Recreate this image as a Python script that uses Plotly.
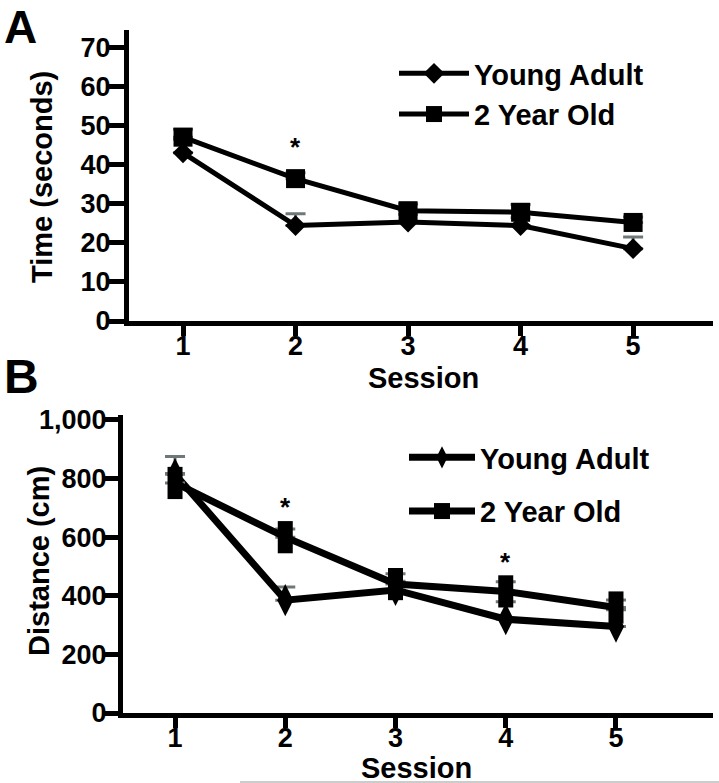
import plotly.graph_objects as go

sessions = [1, 2, 3, 4, 5]

# Panel A: Time (seconds)
time_young = [43, 24.4, 25.3, 24.4, 18.5]
time_young_sem = [3.5, 3.0, 2.0, 2.0, 3.0]
time_old = [47, 36.4, 28.2, 27.8, 25.2]
time_old_sem = [2.0, 1.5, 1.7, 2.0, 1.4]

# Panel B: Distance (cm)
dist_young = [815, 385, 420, 320, 295]
dist_young_sem = [60, 45, 30, 60, 57]
dist_old = [785, 600, 440, 415, 360]
dist_old_sem = [32, 28, 35, 33, 26]

time_ticks = [0, 10, 20, 30, 40, 50, 60, 70]
dist_ticks = [0, 200, 400, 600, 800, 1000]
dist_ticktext = ["0", "200", "400", "600", "800", "1,000"]

stars_A = [(2, 44.5)]
stars_B = [(2, 703), (4, 515)]

FONT = "Liberation Sans, Arial, Helvetica, sans-serif"
CAP = "#6e7878"
W, H = 719, 783

fig = go.Figure()

def err(sem, w):
    return dict(type="data", symmetric=False, array=sem, arrayminus=[0] * len(sem),
                color=CAP, thickness=3, width=w)

# Panel A traces
fig.add_trace(go.Scatter(x=sessions, y=time_young, name="Young Adult", mode="lines+markers",
                         line=dict(color="black", width=5),
                         marker=dict(symbol="diamond", size=16, color="black"),
                         error_y=err(time_young_sem, 10), xaxis="x", yaxis="y", legend="legend"))
fig.add_trace(go.Scatter(x=sessions, y=time_old, name="2 Year Old", mode="lines+markers",
                         line=dict(color="black", width=5),
                         marker=dict(symbol="square", size=19, color="black"),
                         error_y=err(time_old_sem, 10), xaxis="x", yaxis="y", legend="legend"))

# Panel B traces
fig.add_trace(go.Scatter(x=sessions, y=dist_young, name="Young Adult", mode="lines+markers",
                         line=dict(color="black", width=7),
                         marker=dict(symbol="diamond-tall", size=23, color="black"),
                         error_y=err(dist_young_sem, 10), xaxis="x2", yaxis="y2",
                         legend="legend2", legendgroup="bya"))
fig.add_trace(go.Scatter(x=sessions, y=dist_old, name="2 Year Old", mode="lines+markers",
                         line=dict(color="black", width=7),
                         marker=dict(symbol="line-ns", size=23, color="black",
                                     line=dict(color="black", width=15)),
                         error_y=err(dist_old_sem, 10), xaxis="x2", yaxis="y2",
                         showlegend=False, legend="legend2", legendgroup="bold"))
fig.add_trace(go.Scatter(x=[None], y=[None], name="2 Year Old", mode="lines+markers",
                         line=dict(color="black", width=7),
                         marker=dict(symbol="square", size=16, color="black"),
                         xaxis="x2", yaxis="y2", legend="legend2", legendgroup="bold"))

axis_common = dict(showline=True, linewidth=5, linecolor="black", ticks="outside",
                   tickwidth=5, tickcolor="black", showgrid=False, zeroline=False,
                   tickfont=dict(family=FONT, size=27, color="black", weight="bold"),
                   automargin=False)

fig.update_layout(
    width=W, height=H,
    margin=dict(l=0, r=0, t=0, b=0),
    paper_bgcolor="white", plot_bgcolor="white",
    font=dict(family=FONT, color="black", weight="bold"),
    xaxis=dict(domain=[129 / W, 713 / W], anchor="y", range=[0.52, 5.71],
               tickvals=sessions, ticklen=10, ticklabelstandoff=-13, **axis_common),
    yaxis=dict(domain=[1 - 321 / H, 1 - 30 / H], anchor="x", range=[0, 74.4],
               tickvals=time_ticks, ticklen=15, ticklabelstandoff=-7, **axis_common),
    xaxis2=dict(domain=[123 / W, 713 / W], anchor="y2", range=[0.528, 5.88],
                tickvals=sessions, ticklen=10, ticklabelstandoff=-13, **axis_common),
    yaxis2=dict(domain=[1 - 713 / H, 1 - 415 / H], anchor="x2", range=[0, 1017],
                tickvals=dist_ticks, ticktext=dist_ticktext, ticklen=13,
                ticklabelstandoff=-7, **axis_common),
    legend=dict(x=394 / W, y=1 - 48 / H, xanchor="left", yanchor="top",
                font=dict(family=FONT, size=29, weight="bold"), itemwidth=70,
                bgcolor="rgba(0,0,0,0)", borderwidth=0),
    legend2=dict(x=404 / W, y=1 - 432 / H, xanchor="left", yanchor="top",
                 font=dict(family=FONT, size=29, weight="bold"), itemwidth=66,
                 tracegroupgap=13, traceorder="grouped",
                 bgcolor="rgba(0,0,0,0)", borderwidth=0),
    showlegend=True,
)

title_font = dict(family=FONT, size=29, weight="bold", color="black")
# axis titles
fig.add_annotation(x=423 / W, y=1 - 378 / H, xref="paper", yref="paper", text="Session",
                   showarrow=False, xanchor="center", yanchor="middle", font=title_font)
fig.add_annotation(x=416 / W, y=1 - 768 / H, xref="paper", yref="paper", text="Session",
                   showarrow=False, xanchor="center", yanchor="middle", font=title_font)
fig.add_annotation(x=42 / W, y=1 - 177 / H, xref="paper", yref="paper", text="Time (seconds)",
                   textangle=-90, showarrow=False, xanchor="center", yanchor="middle", font=title_font)
fig.add_annotation(x=39 / W, y=1 - 561 / H, xref="paper", yref="paper", text="Distance (cm)",
                   textangle=-90, showarrow=False, xanchor="center", yanchor="middle", font=title_font)

for (sx, sy) in stars_A:
    fig.add_annotation(x=sx, y=sy, xref="x", yref="y", text="*", showarrow=False,
                       font=dict(family=FONT, size=26, weight="bold", color="black"))
for (sx, sy) in stars_B:
    fig.add_annotation(x=sx, y=sy, xref="x2", yref="y2", text="*", showarrow=False,
                       font=dict(family=FONT, size=26, weight="bold", color="black"))

fig.add_annotation(x=2 / W, y=1 - 27 / H, xref="paper", yref="paper", text="A",
                   showarrow=False, xanchor="left", yanchor="middle",
                   font=dict(family=FONT, size=46, weight="bold", color="black"))
fig.add_annotation(x=2 / W, y=1 - 377 / H, xref="paper", yref="paper", text="B",
                   showarrow=False, xanchor="left", yanchor="middle",
                   font=dict(family=FONT, size=48, weight="bold", color="black"))

fig.add_shape(type="line", xref="paper", yref="paper", x0=240 / W, x1=1,
              y0=1 / H, y1=1 / H, line=dict(color="#999999", width=1))

fig.write_html("out.html", config={"displayModeBar": False},
               post_script="document.body.style.margin='0px';")
